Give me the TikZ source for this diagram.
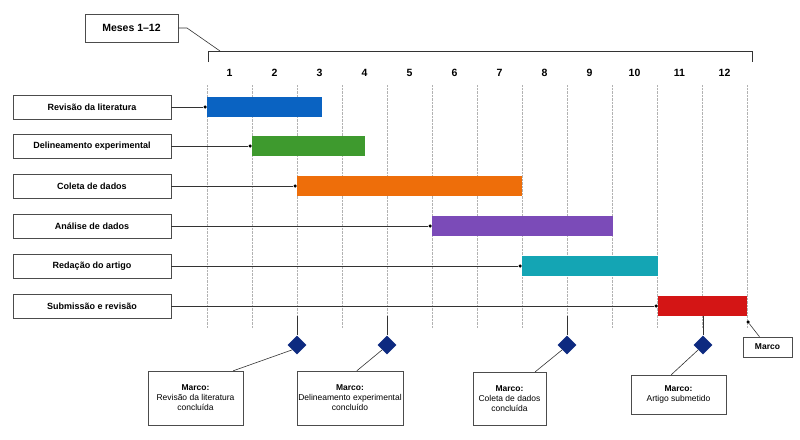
\documentclass[tikz,border=0pt]{standalone}
\usepackage{fontspec}
\setmainfont{Liberation Sans}
\usetikzlibrary{shapes.geometric}
\definecolor{cb}{HTML}{0A63C2}\definecolor{cg}{HTML}{3E9A2E}\definecolor{co}{HTML}{EE6E0A}
\definecolor{cp}{HTML}{7B4BB8}\definecolor{ct}{HTML}{14A5B4}\definecolor{cr}{HTML}{D41515}
\definecolor{dm}{HTML}{0D2A80}
\begin{document}
\begin{tikzpicture}[x=1pt,y=-1pt,
 lbl/.style={draw=black!70,fill=white,font=\bfseries\fontsize{9}{10}\selectfont,minimum height=24pt,minimum width=158pt,inner sep=0},
 mb/.style={draw=black!70,fill=white,font=\fontsize{8.5}{10}\selectfont,align=center,inner sep=0},
 dia/.style={diamond,fill=dm,minimum size=19pt,inner sep=0},
 ln/.style={black!80,line width=0.6pt},
 dot/.style={circle,fill=black,inner sep=0,minimum size=3.5pt}]
\useasboundingbox (0,0) rectangle (800,439);
% grid
\foreach \i in {0,...,12}{\draw[gray!60,densely dotted] (207+45*\i,85) -- (207+45*\i,328);}
\foreach \i in {1,...,12}{\node[font=\bfseries\fontsize{10.5}{12}\selectfont] (m\i) at (184.5+45*\i,73) {\i};}
\draw[ln] (208,62) -- (208,51) -- (752,51) -- (752,62);
\coordinate (br) at (220,51);
\node[lbl,minimum width=93pt,minimum height=28pt,font=\bfseries\fontsize{10.5}{12}\selectfont] (meses) at (131.5,28) {Meses 1–12};
\draw[ln] (meses.east) -- (187,28) -- (br);
% rows
\foreach \n/\t/\y/\a/\b/\c in {r1/Revisão da literatura/107/207/322/cb, r2/Delineamento experimental/146/252/365/cg, r3/Coleta de dados/186/297/522/co, r4/Análise de dados/226/432/613/cp, r5/Redação do artigo/266/522/658/ct, r6/Submissão e revisão/306/658/747/cr}{
 \node[lbl] (\n) at (92,\y) {\t};
 \fill[\c] (\a,\y-10) rectangle (\b,\y+10);
 \node[dot] (\n d) at (\a-2,\y) {};
 \draw[ln] (\n.east) -- (\n d);
}
% milestones
\foreach \n/\x/\s in {d1/297/316, d2/387/316, d3/567/316, d4/703/316}{
 \node[dia] (\n) at (\x,345) {};
 \coordinate (\n s) at (\x,\s);
 \draw[ln] (\n s) -- (\n);
}
\node[mb,minimum width=95pt,minimum height=54pt] (b1) at (195.5,398) {\textbf{Marco:}\\Revisão da literatura\\concluída};
\node[mb,minimum width=106pt,minimum height=54pt] (b2) at (350,398) {\textbf{Marco:}\\Delineamento experimental\\concluído};
\node[mb,minimum width=73pt,minimum height=53pt] (b3) at (509.5,398.5) {\textbf{Marco:}\\Coleta de dados\\concluída};
\node[mb,minimum width=95pt,minimum height=39pt] (b4) at (678.5,394.5) {\textbf{Marco:}\\Artigo submetido};
\draw[ln] (d1.south west) -- ([xshift=-10pt]b1.north east);
\draw[ln] (d2.south west) -- ([xshift=60pt]b2.north west);
\draw[ln] (d3.south west) -- ([xshift=-11pt]b3.north east);
\draw[ln] (d4.south west) -- ([xshift=-55pt]b4.north east);
\node[mb,font=\bfseries\fontsize{8.5}{10}\selectfont,minimum width=49pt,minimum height=20pt] (mk) at (767.5,347) {Marco};
\node[dot] (mkd) at (748,322) {};
\draw[ln] (mkd) -- ([xshift=-8pt]mk.north);
\end{tikzpicture}
\end{document}
